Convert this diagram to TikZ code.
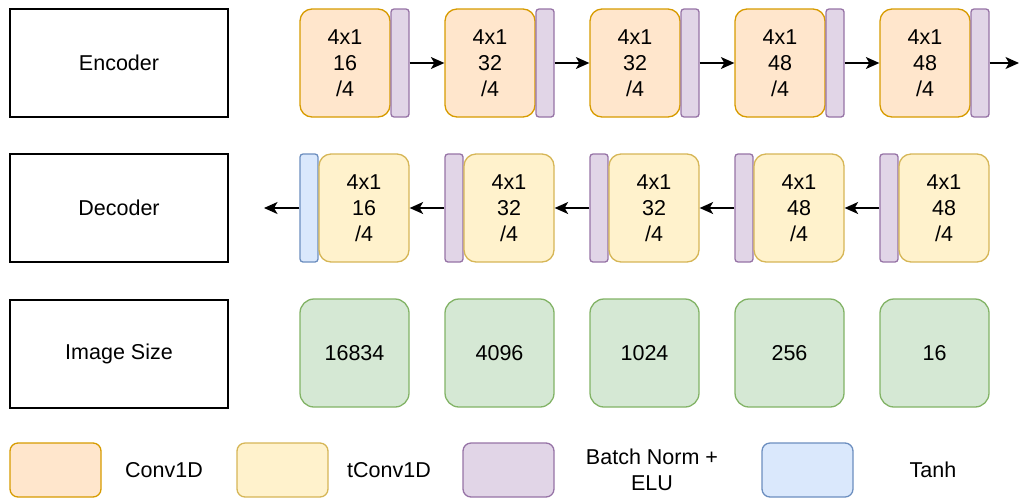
\documentclass[tikz,border=0pt]{standalone}
\usepackage{fontspec}
\setmainfont{Liberation Sans}
\usetikzlibrary{arrows.meta}
\definecolor{convfill}{HTML}{FFE6CC}\definecolor{convline}{HTML}{D79B00}
\definecolor{tconvfill}{HTML}{FFF2CC}\definecolor{tconvline}{HTML}{D6B656}
\definecolor{bnfill}{HTML}{E1D5E7}\definecolor{bnline}{HTML}{9673A6}
\definecolor{tanhfill}{HTML}{DAE8FC}\definecolor{tanhline}{HTML}{6C8EBF}
\definecolor{sizefill}{HTML}{D5E8D4}\definecolor{sizeline}{HTML}{82B366}
\tikzset{
  base/.style={line width=1.3pt, inner sep=0pt, align=center,
    font=\fontsize{21.5}{26}\selectfont},
  label/.style={base, draw=black, minimum width=218pt, minimum height=108pt},
  conv/.style={base, draw=convline, fill=convfill, rounded corners=12pt,
    minimum width=90pt, minimum height=108pt},
  tconv/.style={base, draw=tconvline, fill=tconvfill, rounded corners=12pt,
    minimum width=90pt, minimum height=108pt},
  bn/.style={base, draw=bnline, fill=bnfill, rounded corners=3pt,
    minimum width=18pt, minimum height=108pt},
  tanhbar/.style={base, draw=tanhline, fill=tanhfill, rounded corners=3pt,
    minimum width=18pt, minimum height=108pt},
  sizebox/.style={base, draw=sizeline, fill=sizefill, rounded corners=14pt,
    minimum width=109pt, minimum height=108pt},
  key/.style={base, rounded corners=8pt, minimum width=91pt, minimum height=54pt},
  txt/.style={base},
  flow/.style={line width=1.3pt, -{Stealth[length=13.5pt,width=12pt,inset=3.5pt]}},
}
\begin{document}
\begin{tikzpicture}[x=1pt,y=-1pt]
\useasboundingbox (0,0) rectangle (1019,499);

% row labels
\node[label] (enc) at (119,63) {Encoder};
\node[label] (dec) at (119,208) {Decoder};
\node[label] (img) at (119,354) {Image Size};

% encoder: Conv1D followed by batch norm
\node[conv] (c1) at (345,63) {4x1\\16\\/4};
\node[bn]   (b1) at (400,63) {};
\node[conv] (c2) at (490,63) {4x1\\32\\/4};
\node[bn]   (b2) at (545,63) {};
\node[conv] (c3) at (635,63) {4x1\\32\\/4};
\node[bn]   (b3) at (690,63) {};
\node[conv] (c4) at (780,63) {4x1\\48\\/4};
\node[bn]   (b4) at (835,63) {};
\node[conv] (c5) at (925,63) {4x1\\48\\/4};
\node[bn]   (b5) at (980,63) {};
\coordinate (eout) at (1019,63);

\draw[flow] (b1) -- (c2);
\draw[flow] (b2) -- (c3);
\draw[flow] (b3) -- (c4);
\draw[flow] (b4) -- (c5);
\draw[flow] (b5) -- (eout);

% decoder: batch norm followed by tConv1D, Tanh at the output
\node[tanhbar] (t1) at (309,208) {};
\node[tconv] (d1) at (364,208) {4x1\\16\\/4};
\node[bn]    (n2) at (454,208) {};
\node[tconv] (d2) at (509,208) {4x1\\32\\/4};
\node[bn]    (n3) at (599,208) {};
\node[tconv] (d3) at (654,208) {4x1\\32\\/4};
\node[bn]    (n4) at (744,208) {};
\node[tconv] (d4) at (799,208) {4x1\\48\\/4};
\node[bn]    (n5) at (889,208) {};
\node[tconv] (d5) at (944,208) {4x1\\48\\/4};
\coordinate (dout) at (264,208);

\draw[flow] (n5) -- (d4);
\draw[flow] (n4) -- (d3);
\draw[flow] (n3) -- (d2);
\draw[flow] (n2) -- (d1);
\draw[flow] (t1) -- (dout);

% image sizes
\node[sizebox] (s1) at (354.5,353) {16834};
\node[sizebox] (s2) at (499.5,353) {4096};
\node[sizebox] (s3) at (644.5,353) {1024};
\node[sizebox] (s4) at (789.5,353) {256};
\node[sizebox] (s5) at (934.5,353) {16};

% legend
\node[key, draw=convline, fill=convfill] (k1) at (55.5,470) {};
\node[txt] (l1) at (164,470) {Conv1D};
\node[key, draw=tconvline, fill=tconvfill] (k2) at (282.5,470) {};
\node[txt] (l2) at (389,470) {tConv1D};
\node[key, draw=bnline, fill=bnfill] (k3) at (508.5,470) {};
\node[txt] (l3) at (652,470) {Batch Norm +\\ELU};
\node[key, draw=tanhline, fill=tanhfill] (k4) at (807.5,470) {};
\node[txt] (l4) at (933,470) {Tanh};
\end{tikzpicture}
\end{document}
